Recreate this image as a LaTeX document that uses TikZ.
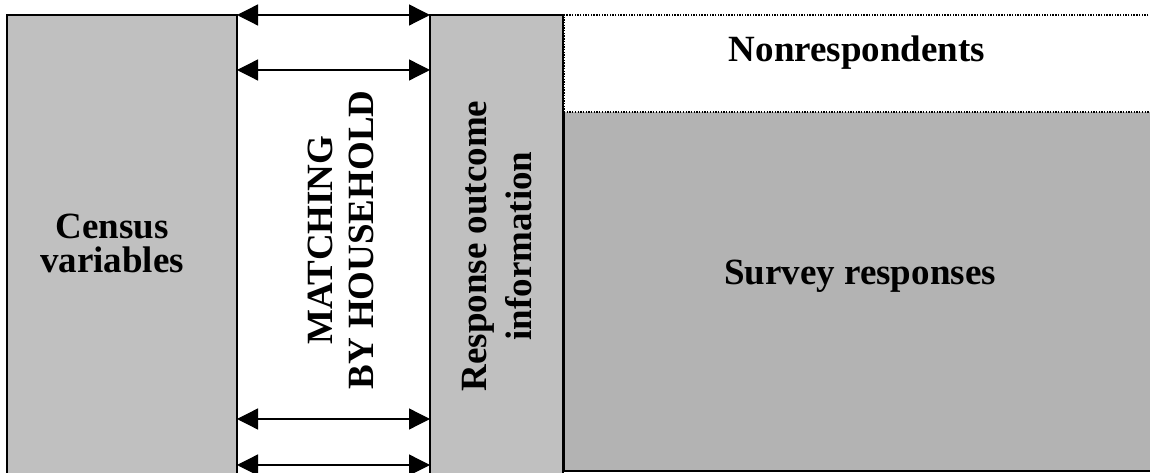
\documentclass[tikz,border=0pt]{standalone}
\usepackage{fontspec}
\setmainfont{Liberation Serif}
\usetikzlibrary{arrows.meta}
\definecolor{boxgray}{HTML}{C0C0C0}
\definecolor{respgray}{HTML}{B3B3B3}
\begin{document}
\begin{tikzpicture}[x=1pt,y=1pt,
  colbox/.style={draw=black, line width=1.2pt, fill=boxgray, minimum height=478pt, inner sep=0pt, outer sep=0pt},
  lbl/.style={font=\bfseries\fontsize{37}{45}\selectfont, inner sep=0pt, align=center},
  dblarrow/.style={{Triangle[length=21pt,width=21pt]}-{Triangle[length=21pt,width=21pt]}, line width=1.3pt},
  dotline/.style={line width=1.3pt, dash pattern=on 1.35pt off 1.35pt}]
\useasboundingbox (0,0) rectangle (1150,473);
\clip (0,0) rectangle (1150,473);
\fill[white] (0,0) rectangle (1150,473);
% columns
\node[colbox, minimum width=230pt, anchor=north west] (census) at (7,458) {};
\node[colbox, minimum width=133pt, anchor=north west] (resp) at (430,458) {};
% right region
\node[fill=respgray, minimum width=596pt, minimum height=359pt, inner sep=0pt, outer sep=0pt, anchor=north west] (survbox) at (564,361) {};
\draw[line width=1.5pt] (survbox.north west) -- (survbox.south west) -- (survbox.south east);
\node[draw, dotline, minimum width=596pt, minimum height=97pt, inner sep=0pt, outer sep=0pt, anchor=north west] (nonrespbox) at (564,458) {};
% labels
\node[lbl, font=\bfseries\fontsize{37}{34}\selectfont] (censustxt) at (112,230) {Census\\variables};
\node[lbl, rotate=90, font=\bfseries\fontsize{37}{41}\selectfont] (matchtxt) at (340.5,233) {MATCHING\\BY HOUSEHOLD};
\node[lbl, rotate=90] (resptxt) at (497,227) {Response outcome\\information};
\node[lbl, anchor=base] (nonresptxt) at (857,411) {Nonrespondents};
\node[lbl, anchor=base] (survtxt) at (860,188) {Survey responses};
% arrows
\draw[dblarrow] (census.north east) -- (resp.north west);
\draw[dblarrow] ([yshift=-55pt]census.north east) -- ([yshift=-55pt]resp.north west);
\draw[dblarrow] ([yshift=-404pt]census.north east) -- ([yshift=-404pt]resp.north west);
\draw[dblarrow] ([yshift=-450pt]census.north east) -- ([yshift=-450pt]resp.north west);
\end{tikzpicture}
\end{document}
